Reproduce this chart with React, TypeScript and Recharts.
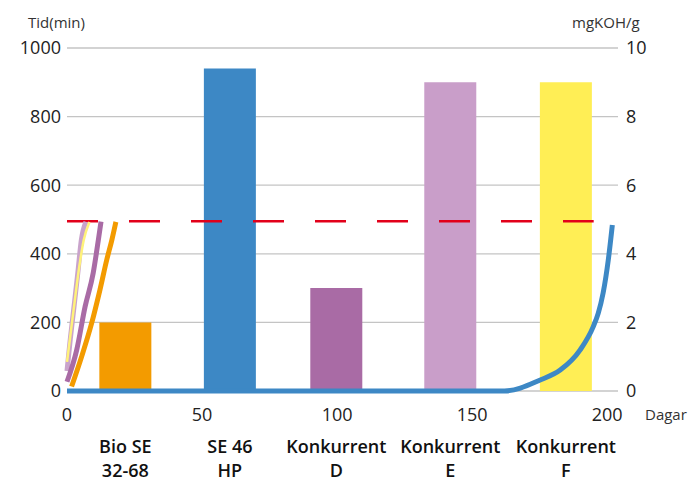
import { ComposedChart, Bar, Line, XAxis, YAxis, CartesianGrid, LabelList, Cell } from 'recharts'

// bars: test time (min) per product, placed on the day axis
const products = ['Bio SE\n32-68', 'SE 46\nHP', 'Konkurrent\nD', 'Konkurrent\nE', 'Konkurrent\nF']
const productDay = [21.7, 60.4, 99.8, 142, 184.8]
const tidMin = [200, 940, 300, 900, 900]
const barColors = ['#f39b00', '#3d88c5', '#a96ba5', '#c99ec9', '#ffee55']

const dayTicks = [0, 50, 100, 150, 200]
const tidTicks = [0, 200, 400, 600, 800, 1000]
const kohTicks = [0, 2, 4, 6, 8, 10]

// acid number curves (mgKOH/g) vs days
const lightPurpleDays = [0, 1.2, 2.6, 4, 5.3, 7]
const lightPurpleKoh = [0.58, 1.5, 2.46, 3.44, 4.4, 4.93]
const yellowDays = [0, 2.5, 4.5, 6.2, 8.3]
const yellowKoh = [0.85, 2.4, 3.6, 4.4, 4.93]
const purpleDays = [0, 3.6, 6.7, 9.7, 11.6, 12.6]
const purpleKoh = [0.27, 1.2, 2.46, 3.44, 4.4, 4.94]
const orangeDays = [1.7, 5.4, 9.1, 12.2, 14.7, 16.6, 18.1]
const orangeKoh = [0.13, 1.0, 1.97, 2.95, 3.82, 4.4, 4.93]
const blueDays = [0, 50, 100, 150, 162, 175.2, 182.6, 190, 194.8, 196.7, 198.5, 200.4, 201.9]
const blueKoh = [0, 0, 0, 0, 0, 0.32, 0.61, 1.2, 1.87, 2.27, 2.86, 3.82, 4.84]

// limit line
const limitDays = [0, 195]
const limitTid = [495, 495]

const barData = products.map((name, i) => ({ name, day: productDay[i], tid: tidMin[i] }))
const toPts = (days: number[], vals: number[], key: string) => days.map((d, i) => ({ day: d, [key]: vals[i] }))

const font = '"Open Sans", "Noto Sans", sans-serif'

const renderProductLabel = (props: any) => {
  const { x, width, value } = props
  const lines = String(value).split('\n')
  const cx = Number(x) + Number(width) / 2
  return (
    <text x={cx} y={453} textAnchor="middle" fill="#111" fontSize={18} fontWeight={600} fontFamily={font}>
      {lines.map((l, i) => (
        <tspan key={i} x={cx} dy={i ? 24 : 0}>{l}</tspan>
      ))}
    </text>
  )
}

export default function App() {
  return (
    <div style={{ position: 'absolute', left: 0, top: 0, width: 693, height: 482, background: '#fff', fontFamily: font }}>
      <ComposedChart width={693} height={482} data={barData} margin={{ top: 48, right: 15, bottom: 61, left: 7 }}>
        <CartesianGrid yAxisId="tid" vertical={false} stroke="#c4c4c4" strokeWidth={1.3} />
        <XAxis dataKey="day" type="number" domain={[0, 204]} ticks={dayTicks} axisLine={false} tickLine={false}
          height={30} tickMargin={11} tick={{ fill: '#222', fontSize: 18 }} />
        <XAxis xAxisId="bar" dataKey="day" type="number" domain={[0, 204]} hide allowDataOverflow />
        <YAxis yAxisId="tid" domain={[0, 1000]} ticks={tidTicks} axisLine={false} tickLine={false} width={60}
          tickMargin={0} tick={{ fill: '#222', fontSize: 18 }} />
        <YAxis yAxisId="koh" orientation="right" domain={[0, 10]} ticks={kohTicks} axisLine={false} tickLine={false}
          width={60} tickMargin={2} tick={{ fill: '#222', fontSize: 18, textAnchor: 'start' }} />
        <Bar xAxisId="bar" yAxisId="tid" dataKey="tid" barSize={52} isAnimationActive={false}>
          {barData.map((d, i) => <Cell key={d.name} fill={barColors[i]} />)}
          <LabelList dataKey="name" content={renderProductLabel} />
        </Bar>
        <Line yAxisId="tid" data={toPts(limitDays, limitTid, 'limit')} dataKey="limit" stroke="#e2001a" strokeWidth={2.5}
          strokeDasharray="31 31" dot={false} isAnimationActive={false} />
        <Line yAxisId="koh" data={toPts(lightPurpleDays, lightPurpleKoh, 'koh')} dataKey="koh" type="monotone" stroke="#c9a3cb"
          strokeWidth={5} dot={false} isAnimationActive={false} />
        <Line yAxisId="koh" data={toPts(yellowDays, yellowKoh, 'koh')} dataKey="koh" type="monotone" stroke="#fff27a"
          strokeWidth={2.5} dot={false} isAnimationActive={false} />
        <Line yAxisId="koh" data={toPts(purpleDays, purpleKoh, 'koh')} dataKey="koh" type="monotone" stroke="#a96ba5"
          strokeWidth={5} dot={false} isAnimationActive={false} />
        <Line yAxisId="koh" data={toPts(orangeDays, orangeKoh, 'koh')} dataKey="koh" type="monotone" stroke="#f39b00"
          strokeWidth={5} dot={false} isAnimationActive={false} />
        <Line yAxisId="koh" data={toPts(blueDays, blueKoh, 'koh')} dataKey="koh" type="monotone" stroke="#3d88c5"
          strokeWidth={5} dot={false} isAnimationActive={false} />
      </ComposedChart>
      <div style={{ position: 'absolute', left: 28, top: 12, fontSize: 15, color: '#333' }}>Tid(min)</div>
      <div style={{ position: 'absolute', left: 572, top: 12, fontSize: 15, color: '#333' }}>mgKOH/g</div>
      <div style={{ position: 'absolute', left: 645, top: 404, fontSize: 15, color: '#333' }}>Dagar</div>
    </div>
  )
}
